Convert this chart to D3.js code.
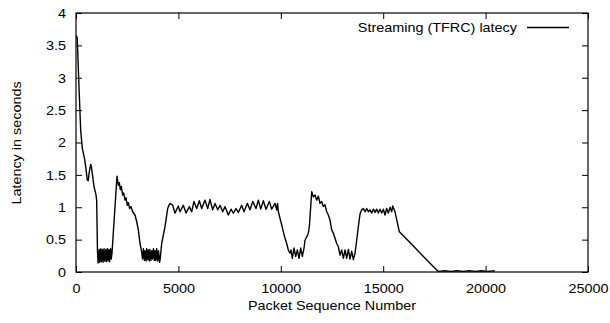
<!DOCTYPE html>
<html><head><meta charset="utf-8">
<script src="https://cdn.jsdelivr.net/npm/d3@7"></script>
<style>
html,body{margin:0;padding:0;background:#fff;}
text{font-family:"Liberation Sans",Arial,Helvetica,sans-serif;font-size:12px;fill:#000;}
</style></head>
<body><svg id="c" width="610" height="323"></svg>
<script>
const packets = [0,60,146,228,309,423,472,521,553,602,635,716,740,797,879,977,1009,
1050,1080,1130,1160,1210,1240,1290,1320,1370,1400,1450,1480,1530,1560,1610,1640,1690,1720,1760,
2002,2067,2116,2165,2214,2279,2328,2393,2441,2507,2555,2620,2686,2767,2881,2962,3044,3125,3206,
3250,3290,3340,3370,3420,3450,3500,3530,3580,3610,3660,3700,3740,3780,3830,3860,3900,3940,3990,4030,4080,4110,
4184,4346,4476,4541,4590,4720,4834,4997,5078,5241,5371,5534,5648,5762,5892,6023,6137,6299,6430,6544,6674,6788,6918,
7032,7162,7276,7439,7569,7683,7813,7927,8090,8204,8367,8497,8627,8790,8904,9018,9148,9279,9441,9555,9718,9799,9840,9880,
9961,10043,10124,10206,10287,10368,10450,10499,10564,10645,10727,10808,10889,10971,11052,11134,11182,11264,11345,11394,
11510,11589,11671,11752,11834,11915,11996,12078,12159,12241,12322,12403,12485,12566,12647,12729,12810,12892,12973,13055,
13136,13217,13299,13380,13461,13543,13624,13706,13787,13869,13950,14031,14113,14194,14276,
14356,14437,14519,14600,14682,14763,14844,14926,15007,15089,15170,15251,15333,15414,15463,15577,15789,16391,16961,17612,
17700,18000,18300,18600,18900,19200,19500,19800,20100,20450];
const latency = [3.65,3.62,2.86,2.19,1.91,1.74,1.63,1.50,1.42,1.41,1.52,1.66,1.65,1.52,1.32,1.19,1.11,
0.30,0.14,0.35,0.15,0.36,0.16,0.35,0.15,0.36,0.17,0.35,0.16,0.36,0.17,0.35,0.16,0.36,0.20,0.30,
1.48,1.34,1.38,1.27,1.32,1.19,1.22,1.11,1.15,1.03,1.07,0.98,1.01,0.93,0.88,0.78,0.65,0.44,0.31,
0.20,0.36,0.18,0.33,0.17,0.36,0.19,0.34,0.17,0.35,0.18,0.33,0.20,0.36,0.18,0.33,0.18,0.36,0.17,0.33,0.15,0.20,
0.44,0.70,0.98,1.03,1.06,1.03,0.91,1.02,0.93,1.03,0.91,1.01,0.93,1.09,0.98,1.10,0.98,1.11,0.98,1.12,0.96,1.06,0.96,
1.03,0.93,1.01,0.88,0.97,0.91,0.98,0.92,1.03,0.93,1.06,0.96,1.09,0.98,1.11,0.97,1.10,0.97,1.09,0.97,1.06,0.96,1.06,0.93,
0.83,0.73,0.62,0.52,0.44,0.34,0.29,0.34,0.21,0.37,0.24,0.34,0.21,0.37,0.24,0.37,0.49,0.54,0.60,0.70,
1.24,1.16,1.19,1.11,1.17,1.06,1.09,1.01,1.04,0.93,0.88,0.80,0.65,0.60,0.52,0.44,0.39,0.26,0.34,0.21,
0.34,0.21,0.35,0.20,0.32,0.19,0.29,0.49,0.70,0.90,0.96,0.98,0.93,0.98,0.93,
0.96,0.91,0.97,0.92,0.97,0.91,0.97,0.91,0.97,0.88,0.98,0.91,1.00,0.93,1.02,0.93,0.62,0.43,0.24,0.03,
0.01,0.02,0.01,0.02,0.01,0.02,0.01,0.02,0.01,0.02];
const xTicks = [0,5000,10000,15000,20000,25000];
const yTicks = [0,0.5,1,1.5,2,2.5,3,3.5,4];
const xTitle = "Packet Sequence Number";
const yTitle = "Latency in seconds";
const seriesName = "Streaming (TFRC) latecy";

const svg = d3.select("#c");
const L=76,R=588,T=13,B=272;
const SX=1.2; // horizontal stretch of the reference's lettering
const x = d3.scaleLinear().domain([0,25000]).range([L,R]);
const y = d3.scaleLinear().domain([0,4]).range([B,T]);

// data line
const data = packets.map((p,i)=>[p,latency[i]]);
svg.append("path").datum(data)
  .attr("fill","none").attr("stroke","#000").attr("stroke-width",1.4)
  .attr("stroke-linejoin","round")
  .attr("d", d3.line().x(d=>x(d[0])).y(d=>y(d[1])));

function stretch(sel){
  sel.each(function(){
    const t=d3.select(this);
    const tx=+t.attr("x")||0, ty=+t.attr("y")||0;
    t.attr("x",0).attr("y",0).attr("transform",`translate(${tx},${ty}) scale(${SX},1)`);
  });
}

// axes (gnuplot style, inward ticks, mirrored)
const tl=6;
const gBottom = svg.append("g").attr("transform",`translate(0,${B})`)
  .call(d3.axisBottom(x).tickValues(xTicks).tickSizeInner(-tl).tickSizeOuter(0).tickPadding(14).tickFormat(d3.format("d")));
const gTop = svg.append("g").attr("transform",`translate(0,${T})`)
  .call(d3.axisTop(x).tickValues(xTicks).tickSizeInner(-tl).tickSizeOuter(0).tickFormat(""));
const gLeft = svg.append("g").attr("transform",`translate(${L},0)`)
  .call(d3.axisLeft(y).tickValues(yTicks).tickSizeInner(-tl).tickSizeOuter(0).tickPadding(10).tickFormat(d=>String(d)));
const gRight = svg.append("g").attr("transform",`translate(${R},0)`)
  .call(d3.axisRight(y).tickValues(yTicks).tickSizeInner(-tl).tickSizeOuter(0).tickFormat(""));
[gBottom,gTop,gLeft,gRight].forEach(g=>{
  g.selectAll(".domain").remove();
  g.selectAll("line").attr("stroke","#000").attr("stroke-width",1);
  g.selectAll("text").attr("font-family",null).attr("font-size",null).style("font-size","12px").style("font-family","'Liberation Sans',Arial,sans-serif").attr("fill","#000");
});
gBottom.selectAll("text").attr("dy",null).attr("y",21);
gLeft.selectAll("text").attr("dy","0.36em");
stretch(gBottom.selectAll("text"));
stretch(gLeft.selectAll("text"));

svg.append("rect").attr("x",L).attr("y",T).attr("width",R-L).attr("height",B-T)
  .attr("fill","none").attr("stroke","#000").attr("stroke-width",1.2);

svg.append("text").attr("transform",`translate(${(L+R)/2},310) scale(${SX},1)`).attr("text-anchor","middle").text(xTitle);
svg.append("text").attr("transform",`translate(21,143) rotate(-90) scale(${SX},1)`).attr("text-anchor","middle").text(yTitle);

// legend
svg.append("text").attr("transform",`translate(517,31.5) scale(${SX},1)`).attr("text-anchor","end").text(seriesName);
svg.append("line").attr("x1",527).attr("x2",569).attr("y1",27.5).attr("y2",27.5)
  .attr("stroke","#000").attr("stroke-width",1.3);
</script></body></html>
